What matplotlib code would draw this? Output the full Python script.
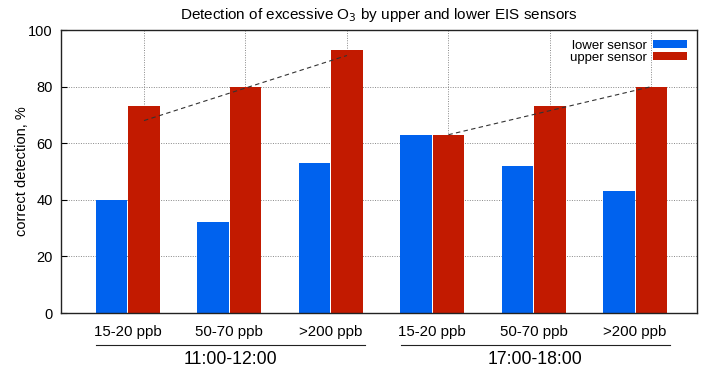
import numpy as np
import matplotlib
matplotlib.use("Agg")
from matplotlib import pyplot as plt
from matplotlib import transforms

plt.rcParams['font.family'] = ['Liberation Sans', 'DejaVu Sans']

# data
conc = ['15-20 ppb', '50-70 ppb', '>200 ppb', '15-20 ppb', '50-70 ppb', '>200 ppb']
periods = ['11:00-12:00', '17:00-18:00']
lower = [40, 32, 53, 63, 52, 43]
upper = [73, 80, 93, 63, 73, 80]
# dashed trend lines over the upper sensor bars (start, end)
trend1 = [68, 91]
trend2 = [63, 80]

blue = '#0062ee'
red = '#c21a00'

fig = plt.figure(figsize=(7.09, 3.71), dpi=100)
ax = fig.add_axes([0.086, 0.1563, 0.897, 0.7628])

x = np.arange(len(conc))
w = 0.31
ax.bar(x - 0.32, lower, w, color=blue, label='lower sensor', zorder=2)
ax.bar(x, upper, w, color=red, label='upper sensor', zorder=2)

ax.plot([0, 2], trend1, ls=(0, (4, 3)), color='#333333', lw=0.8, zorder=3)
ax.plot([3, 5], trend2, ls=(0, (4, 3)), color='#333333', lw=0.8, zorder=3)

ax.set_xlim(-0.8185, 5.45)
ax.set_ylim(0, 100)
ax.set_yticks([0, 20, 40, 60, 80, 100])
ax.tick_params(axis='y', direction='in', length=4, width=0.8, labelsize=10.5, pad=6)

# grid lines sit on the upper sensor bars, labels between the pair
ax.set_xticks(x)
ax.set_xticklabels([])
ax.set_xticks(x - 0.16, minor=True)
ax.set_xticklabels(conc, minor=True, fontsize=10.8)
ax.tick_params(axis='x', which='both', length=0, pad=8.5)
ax.grid(True, which='major', ls=(0, (1, 1.5)), color='#888888', lw=0.7, zorder=0)

for s in ax.spines.values():
    s.set_linewidth(1.0)
    s.set_color('#222222')

ax.set_ylabel('correct detection, %', fontsize=10.5)
ax.yaxis.set_label_coords(-0.051, 0.5)
ax.set_title('Detection of excessive O$_3$ by upper and lower EIS sensors',
             fontsize=11, pad=8)

# period brackets under the tick labels
trans = transforms.blended_transform_factory(ax.transData, ax.transAxes)
spans = [(-0.47, 2.18), (2.53, 5.18)]
for (a, b), name in zip(spans, periods):
    ax.plot([a, b], [-0.113, -0.113], color='#222222', lw=0.8,
            transform=trans, clip_on=False)
    ax.text((a + b) / 2, -0.166, name, transform=trans, ha='center',
            va='center', fontsize=12.7)

leg = ax.legend(loc='upper right', frameon=False, markerfirst=False,
                fontsize=9.5, handlelength=2.6, handleheight=0.55,
                labelspacing=0.0, handletextpad=0.45,
                borderaxespad=0.35, borderpad=0.4)

fig.savefig('out.png', dpi=100)
